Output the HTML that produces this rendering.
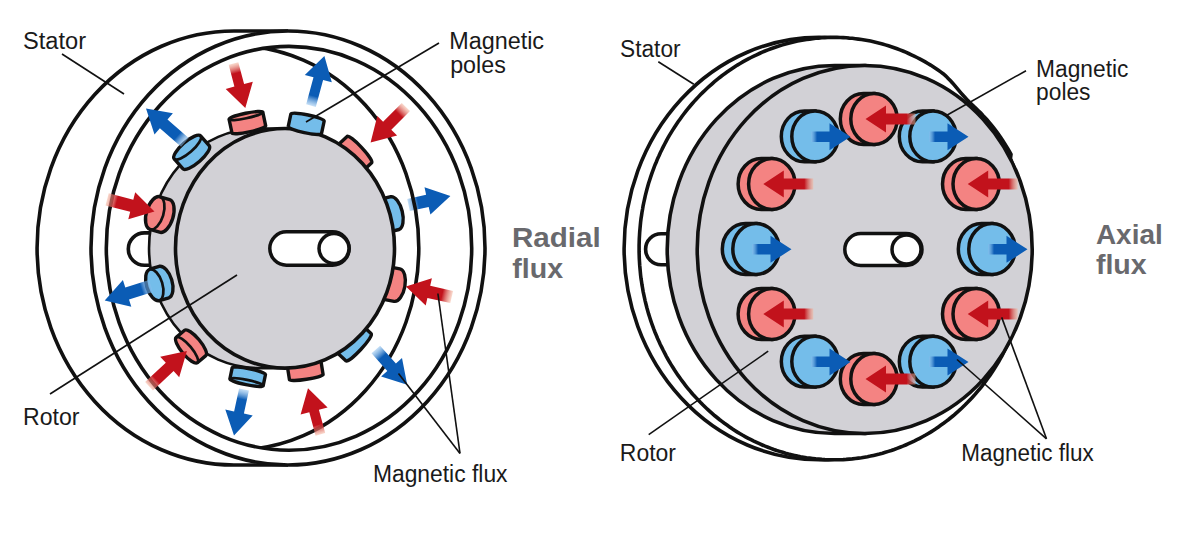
<!DOCTYPE html><html><head><meta charset="utf-8"><style>html,body{margin:0;padding:0;background:#fff}svg{display:block}text{font-family:"Liberation Sans",sans-serif}</style></head><body>
<svg width="1200" height="535" viewBox="0 0 1200 535">
<defs><clipPath id="cC"><ellipse cx="289" cy="248.3" rx="182.7" ry="201.9"/></clipPath></defs>
<g stroke="#111" stroke-width="3.6" fill="#fff">
<path d="M288,31 L234,31 A197,217 0 0 0 234,465 L288,465"/>
<ellipse cx="288" cy="248" rx="197" ry="217"/>
<ellipse cx="289" cy="248.3" rx="182.7" ry="201.9"/>
<rect x="128.3" y="232.9" width="45" height="32.4" rx="16.2"/>
</g>
<path d="M285,128.5 L258.5,128.5 A109.5,119.8 0 0 0 258.5,368.1 L285,368.1 Z" fill="#d2d1d6" stroke="#111" stroke-width="2.6"/>
<path d="M336.9,145.9 A18,3 47 0 0 361.5,172.2 L371.7,162.7 A18,3 47 0 0 347.1,136.4 Z" fill="#f48382" stroke="#111" stroke-width="3.4" stroke-linejoin="round"/>
<path d="M379.3,199.5 A17,8 76 0 0 387.5,232.4 L399.1,229.5 A17,8 76 0 0 390.9,196.6 Z" fill="#74bdea" stroke="#111" stroke-width="3.4" stroke-linejoin="round"/>
<path d="M388.1,266.7 A16.5,8 100 0 0 382.3,299.2 L394.1,301.3 A16.5,8 100 0 0 399.9,268.8 Z" fill="#f48382" stroke="#111" stroke-width="3.4" stroke-linejoin="round"/>
<path d="M361.1,324.3 A18.5,3 133 0 0 335.9,351.4 L346.1,360.9 A18.5,3 133 0 0 371.3,333.8 Z" fill="#74bdea" stroke="#111" stroke-width="3.4" stroke-linejoin="round"/>
<path d="M320.9,360.7 A17,2 171 0 0 287.3,366 L289.5,379.9 A17,2 171 0 0 323.1,374.6 Z" fill="#f48382" stroke="#111" stroke-width="3.4" stroke-linejoin="round"/>
<ellipse cx="285" cy="248.3" rx="109.5" ry="119.8" fill="#d2d1d6" stroke="#111" stroke-width="3.6"/>
<path d="M232,133 A17.2,2.5 -12 0 0 265.7,125.9 L262.8,112.2 A17.2,2.5 -12 0 0 229.1,119.3 Z" fill="#f48382" stroke="#111" stroke-width="3.4" stroke-linejoin="round"/>
<path d="M262.8,112.2 A17.2,2.5 -12 0 1 229.1,119.3" fill="none" stroke="#111" stroke-width="2.72"/>
<path d="M288.2,126.6 A17,2.5 12 0 0 321.5,133.7 L324.2,121 A17,2.5 12 0 0 290.9,113.9 Z" fill="#74bdea" stroke="#111" stroke-width="3.4" stroke-linejoin="round"/>
<path d="M182.8,168.7 A17.5,5.5 -41 0 0 209.2,145.7 L200.6,135.9 A17.5,5.5 -41 0 0 174.2,158.9 Z" fill="#74bdea" stroke="#111" stroke-width="3.4" stroke-linejoin="round"/>
<path d="M200.6,135.9 A17.5,5.5 -41 0 1 174.2,158.9" fill="none" stroke="#111" stroke-width="2.72"/>
<path d="M159.6,232.2 A17,8.5 -73 0 0 169.6,199.7 L160,196.8 A17,8.5 -73 0 0 150,229.3 Z" fill="#f48382" stroke="#111" stroke-width="3.4" stroke-linejoin="round"/>
<path d="M160,196.8 A17,8.5 -73 0 1 150,229.3" fill="none" stroke="#111" stroke-width="2.72"/>
<path d="M168.9,297.8 A16.5,8.5 -107 0 0 159.3,266.3 L149.7,269.2 A16.5,8.5 -107 0 0 159.3,300.7 Z" fill="#74bdea" stroke="#111" stroke-width="3.4" stroke-linejoin="round"/>
<path d="M149.7,269.2 A16.5,8.5 -107 0 1 159.3,300.7" fill="none" stroke="#111" stroke-width="2.72"/>
<path d="M205.8,355.6 A16.5,5 -130 0 0 184.6,330.3 L176.2,337.4 A16.5,5 -130 0 0 197.4,362.7 Z" fill="#f48382" stroke="#111" stroke-width="3.4" stroke-linejoin="round"/>
<path d="M176.2,337.4 A16.5,5 -130 0 1 197.4,362.7" fill="none" stroke="#111" stroke-width="2.72"/>
<path d="M265.5,374.5 A17,2.5 -168.5 0 0 232.2,367.7 L229.9,378.9 A17,2.5 -168.5 0 0 263.2,385.7 Z" fill="#74bdea" stroke="#111" stroke-width="3.4" stroke-linejoin="round"/>
<path d="M229.9,378.9 A17,2.5 -168.5 0 1 263.2,385.7" fill="none" stroke="#111" stroke-width="2.72"/>
<g stroke="#111" stroke-width="3.5" fill="#fff"><rect x="269.8" y="231.8" width="79.4" height="33.4" rx="16.7"/><circle cx="334" cy="248.5" r="15"/></g>
<linearGradient id="gl3" gradientUnits="userSpaceOnUse" x1="408.5" y1="205" x2="418.3" y2="202.9"><stop offset="0" stop-color="#8cc0ee" stop-opacity="0.5"/><stop offset="1" stop-color="#0b5cb5"/></linearGradient>
<polygon fill="url(#gl3)" points="409.8,211.1 428.7,207 430.4,214.6 450.4,196 424.5,187.2 426.1,194.8 407.2,198.9"/>
<ellipse cx="236.1" cy="247.9" rx="182.7" ry="202" fill="none" stroke="#111" stroke-width="3.6" clip-path="url(#cC)"/>
<linearGradient id="gl0" gradientUnits="userSpaceOnUse" x1="233.5" y1="63.5" x2="236.1" y2="73.2"><stop offset="0" stop-color="#f4b49c" stop-opacity="0.5"/><stop offset="1" stop-color="#c2121c"/></linearGradient>
<polygon fill="url(#gl0)" points="228.7,64.8 234.4,86.6 225.7,88.9 245.3,108 252.8,81.7 244.1,84 238.3,62.2"/>
<linearGradient id="gl1" gradientUnits="userSpaceOnUse" x1="311" y1="105.6" x2="313.6" y2="95.9"><stop offset="0" stop-color="#8cc0ee" stop-opacity="0.5"/><stop offset="1" stop-color="#0b5cb5"/></linearGradient>
<polygon fill="url(#gl1)" points="315.8,106.9 323.1,79.9 331.8,82.2 324.4,55.9 304.8,74.9 313.5,77.3 306.2,104.3"/>
<linearGradient id="gl2" gradientUnits="userSpaceOnUse" x1="405.9" y1="107" x2="398.8" y2="114.1"><stop offset="0" stop-color="#f4b49c" stop-opacity="0.5"/><stop offset="1" stop-color="#c2121c"/></linearGradient>
<polygon fill="url(#gl2)" points="401.8,102.9 383.1,121.7 377.3,115.9 370.6,142.4 397.1,135.6 391.3,129.8 410,111.1"/>
<linearGradient id="gl4" gradientUnits="userSpaceOnUse" x1="451.7" y1="297" x2="441.9" y2="294.8"><stop offset="0" stop-color="#f4b49c" stop-opacity="0.5"/><stop offset="1" stop-color="#c2121c"/></linearGradient>
<polygon fill="url(#gl4)" points="453.1,290.9 430.2,285.7 431.9,278.2 405.9,286.6 425.7,305.5 427.4,297.9 450.3,303.1"/>
<linearGradient id="gl5" gradientUnits="userSpaceOnUse" x1="375.8" y1="349.5" x2="382.4" y2="357"><stop offset="0" stop-color="#8cc0ee" stop-opacity="0.5"/><stop offset="1" stop-color="#0b5cb5"/></linearGradient>
<polygon fill="url(#gl5)" points="371.5,353.3 387.3,371.1 381.1,376.5 407.2,384.8 402,357.9 395.9,363.4 380.1,345.7"/>
<linearGradient id="gl6" gradientUnits="userSpaceOnUse" x1="320.4" y1="434.4" x2="317.8" y2="424.7"><stop offset="0" stop-color="#f4b49c" stop-opacity="0.5"/><stop offset="1" stop-color="#c2121c"/></linearGradient>
<polygon fill="url(#gl6)" points="325.2,433.1 318.9,409.7 327.6,407.4 308,388.3 300.6,414.6 309.3,412.3 315.6,435.7"/>
<linearGradient id="gl7" gradientUnits="userSpaceOnUse" x1="244" y1="389.5" x2="241.9" y2="399.3"><stop offset="0" stop-color="#8cc0ee" stop-opacity="0.5"/><stop offset="1" stop-color="#0b5cb5"/></linearGradient>
<polygon fill="url(#gl7)" points="239.1,388.4 234.1,411.5 225.3,409.6 234,435.5 252.7,415.5 243.9,413.6 248.9,390.6"/>
<linearGradient id="gl8" gradientUnits="userSpaceOnUse" x1="149" y1="386.2" x2="156.3" y2="379.4"><stop offset="0" stop-color="#f4b49c" stop-opacity="0.5"/><stop offset="1" stop-color="#c2121c"/></linearGradient>
<polygon fill="url(#gl8)" points="152.9,390.4 173.6,371.1 179.2,377.2 186.9,350.9 160.2,356.7 165.8,362.7 145.1,382"/>
<linearGradient id="gl9" gradientUnits="userSpaceOnUse" x1="150.9" y1="286" x2="141.4" y2="289"><stop offset="0" stop-color="#8cc0ee" stop-opacity="0.5"/><stop offset="1" stop-color="#0b5cb5"/></linearGradient>
<polygon fill="url(#gl9)" points="149,280 125.3,287.5 122.9,280.1 104.7,300.5 131.3,306.8 129,299.4 152.8,292"/>
<linearGradient id="gl10" gradientUnits="userSpaceOnUse" x1="107.1" y1="199.4" x2="116.8" y2="201.9"><stop offset="0" stop-color="#f4b49c" stop-opacity="0.5"/><stop offset="1" stop-color="#c2121c"/></linearGradient>
<polygon fill="url(#gl10)" points="105.5,205.5 130.2,211.8 128.3,219.3 154.5,211.6 135.2,192.2 133.3,199.7 108.7,193.3"/>
<linearGradient id="gl11" gradientUnits="userSpaceOnUse" x1="184.9" y1="142.4" x2="177.4" y2="135.8"><stop offset="0" stop-color="#8cc0ee" stop-opacity="0.5"/><stop offset="1" stop-color="#0b5cb5"/></linearGradient>
<polygon fill="url(#gl11)" points="188.7,138.1 167.5,119.5 172.9,113.3 146,108.4 154.5,134.4 159.9,128.2 181.1,146.7"/>
<g stroke="#111" stroke-width="3.6" fill="#fff">
<ellipse cx="819" cy="248.6" rx="194.9" ry="211.2"/>
<path d="M1028.9,248.6 L1028.9,251.9 L1028.8,255.2 L1028.7,258.5 L1028.5,261.9 L1028.3,265.2 L1028.0,268.5 L1027.7,271.8 L1027.4,275.1 L1027.0,278.4 L1026.5,281.6 L1026.0,284.9 L1025.4,288.2 L1024.9,291.4 L1024.2,294.7 L1023.5,297.9 L1022.8,301.1 L1022.0,304.3 L1021.2,307.5 L1020.3,310.7 L1019.4,313.9 L1018.4,317.0 L1017.4,320.1 L1016.3,323.3 L1015.2,326.3 L1014.1,329.4 L1012.9,332.5 L1011.6,335.5 L1010.4,338.5 L1009.0,341.5 L1007.7,344.5 L1006.2,347.4 L1004.8,350.3 L1003.3,353.2 L1001.8,356.1 L1000.2,359.0 L998.6,361.8 L996.9,364.6 L995.2,367.3 L993.5,370.0 L991.7,372.7 L989.9,375.4 L988.0,378.0 L986.1,380.7 L984.2,383.2 L982.2,385.8 L980.2,388.3 L978.2,390.7 L976.1,393.2 L974.0,395.6 L971.8,397.9 L969.6,400.3 L967.4,402.6 L965.2,404.8 L962.9,407.0 L960.6,409.2 L958.2,411.3 L955.9,413.4 L953.5,415.5 L951.0,417.5 L948.6,419.5 L946.1,421.4 L943.6,423.3 L941.0,425.1 L938.4,426.9 L935.8,428.7 L933.2,430.4 L930.6,432.1 L927.9,433.7 L925.2,435.3 L922.5,436.8 L919.7,438.3 L917.0,439.7 L914.2,441.1 L911.4,442.4 L908.6,443.7 L905.7,445.0 L902.9,446.2 L900.0,447.3 L897.1,448.4 L894.2,449.5 L891.3,450.5 L888.4,451.4 L885.4,452.3 L882.5,453.2 L879.5,454.0 L876.5,454.7 L873.5,455.4 L870.5,456.1 L867.5,456.7 L864.5,457.2 L861.5,457.7 L858.4,458.1 L855.4,458.5 L852.3,458.9 L849.3,459.1 L846.2,459.4 L843.2,459.6 L840.1,459.7 L837.1,459.8 L834.0,459.8 L830.9,459.8 L827.9,459.7 L824.8,459.6 L821.8,459.4 L818.7,459.1 L815.7,458.9 L812.6,458.5 L809.6,458.1 L806.5,457.7 L803.5,457.2 L800.5,456.7 L797.5,456.1 L794.5,455.4 L791.5,454.7 L788.5,454.0 L785.5,453.2 L782.6,452.3 L779.6,451.4 L776.7,450.5 L773.8,449.5 L770.9,448.4 L768.0,447.3 L765.1,446.2 L762.3,445.0 L759.4,443.7 L756.6,442.4 L753.8,441.1 L751.0,439.7 L748.3,438.3 L745.5,436.8 L742.8,435.3 L740.1,433.7 L737.4,432.1 L734.8,430.4 L732.2,428.7 L729.6,426.9 L727.0,425.1 L724.4,423.3 L721.9,421.4 L719.4,419.5 L717.0,417.5 L714.5,415.5 L712.1,413.4 L709.8,411.3 L707.4,409.2 L705.1,407.0 L702.8,404.8 L700.6,402.6 L698.4,400.3 L696.2,397.9 L694.0,395.6 L691.9,393.2 L689.8,390.7 L687.8,388.3 L685.8,385.8 L683.8,383.2 L681.9,380.7 L680.0,378.0 L678.1,375.4 L676.3,372.7 L674.5,370.0 L672.8,367.3 L671.1,364.6 L669.4,361.8 L667.8,359.0 L666.2,356.1 L664.7,353.2 L663.2,350.3 L661.8,347.4 L660.3,344.5 L659.0,341.5 L657.6,338.5 L656.4,335.5 L655.1,332.5 L653.9,329.4 L652.8,326.3 L651.7,323.3 L650.6,320.1 L649.6,317.0 L648.6,313.9 L647.7,310.7 L646.8,307.5 L646.0,304.3 L645.2,301.1 L644.5,297.9 L643.8,294.7 L643.1,291.4 L642.6,288.2 L642.0,284.9 L641.5,281.6 L641.0,278.4 L640.6,275.1 L640.3,271.8 L640.0,268.5 L639.7,265.2 L639.5,261.9 L639.3,258.5 L639.2,255.2 L639.1,251.9 L639.1,248.6 L639.1,245.3 L639.2,242.0 L639.3,238.7 L639.5,235.3 L639.7,232.0 L640.0,228.7 L640.3,225.4 L640.6,222.1 L641.0,218.8 L641.5,215.6 L642.0,212.3 L642.6,209.0 L643.1,205.8 L643.8,202.5 L644.5,199.3 L645.2,196.1 L646.0,192.9 L646.8,189.7 L647.7,186.5 L648.6,183.3 L649.6,180.2 L650.6,177.1 L651.7,173.9 L652.8,170.9 L653.9,167.8 L655.1,164.7 L656.4,161.7 L657.6,158.7 L659.0,155.7 L660.3,152.7 L661.8,149.8 L663.2,146.9 L664.7,144.0 L666.2,141.1 L667.8,138.2 L669.4,135.4 L671.1,132.6 L672.8,129.9 L674.5,127.2 L676.3,124.5 L678.1,121.8 L680.0,119.2 L681.9,116.5 L683.8,114.0 L685.8,111.4 L687.8,108.9 L689.8,106.5 L691.9,104.0 L694.0,101.6 L696.2,99.3 L698.4,96.9 L700.6,94.6 L702.8,92.4 L705.1,90.2 L707.4,88.0 L709.8,85.9 L712.1,83.8 L714.5,81.7 L717.0,79.7 L719.4,77.7 L721.9,75.8 L724.4,73.9 L727.0,72.1 L729.6,70.3 L732.2,68.5 L734.8,66.8 L737.4,65.1 L740.1,63.5 L742.8,61.9 L745.5,60.4 L748.3,58.9 L751.0,57.5 L753.8,56.1 L756.6,54.8 L759.4,53.5 L762.3,52.2 L765.1,51.0 L768.0,49.9 L770.9,48.8 L773.8,47.7 L776.7,46.7 L779.6,45.8 L782.6,44.9 L785.5,44.0 L788.5,43.2 L791.5,42.5 L794.5,41.8 L797.5,41.1 L800.5,40.5 L803.5,40.0 L806.5,39.5 L809.6,39.1 L812.6,38.7 L815.7,38.3 L818.7,38.1 L821.8,37.8 L824.8,37.6 L827.9,37.5 L830.9,37.4 L834.0,37.4 L837.1,37.4 L840.1,37.5 L843.2,37.6 L846.2,37.8 L849.3,38.1 L852.3,38.3 L855.4,38.7 L858.4,39.1 L861.5,39.5 L864.5,40.0 L867.5,40.5 L870.5,41.1 L873.5,41.8 L876.5,42.5 L879.5,43.2 L882.5,44.0 L885.4,44.9 L888.4,45.8 L891.3,46.7 L894.2,47.7 L897.1,48.8 L900.0,49.9 L902.9,51.0 L905.7,52.2 L908.6,53.5 L911.4,54.8 L914.2,56.1 L917.0,57.5 L919.7,58.9 L922.5,60.4 L925.2,61.9 L927.9,63.5 L930.6,65.1 L933.2,66.8 L935.8,68.5 L938.4,70.3 L941.0,72.1 L943.5,74.0 L945.9,76.1 L948.2,78.4 L950.5,80.8 L952.7,83.2 L954.8,85.7 L956.9,88.2 L959.0,90.7 L961.1,93.1 L963.2,95.5 L965.3,97.8 L967.4,100.1 L969.6,102.3 L971.9,104.5 L974.1,106.6 L976.4,108.7 L978.6,110.9 L980.8,113.1 L982.9,115.4 L985.1,117.7 L987.2,120.0 L989.2,122.4 L991.3,124.9 L993.3,127.3 L995.2,129.9 L997.1,132.4 L999.0,135.0 L1000.9,137.7 L1002.7,140.4 L1004.4,143.1 L1006.1,145.9 L1007.8,148.7 L1009.4,151.5 L1011.0,154.4 L1010.4,158.7 L1011.6,161.7 L1012.9,164.7 L1014.1,167.8 L1015.2,170.9 L1016.3,173.9 L1017.4,177.1 L1018.4,180.2 L1019.4,183.3 L1020.3,186.5 L1021.2,189.7 L1022.0,192.9 L1022.8,196.1 L1023.5,199.3 L1024.2,202.5 L1024.9,205.8 L1025.4,209.0 L1026.0,212.3 L1026.5,215.6 L1027.0,218.8 L1027.4,222.1 L1027.7,225.4 L1028.0,228.7 L1028.3,232.0 L1028.5,235.3 L1028.7,238.7 L1028.8,242.0 L1028.9,245.3 Z"/>
<rect x="645.6" y="233.8" width="45" height="31" rx="15.5"/>
</g>
<path d="M864.7,65.5 L834.7,65.5 A167.5,184 0 0 0 834.7,433.5 L864.7,433.5 Z" fill="#d2d1d6" stroke="#111" stroke-width="3.6"/>
<ellipse cx="864.7" cy="249.5" rx="167.5" ry="184" fill="#d2d1d6" stroke="#111" stroke-width="3.6"/>
<g stroke="#111" stroke-width="3.5" fill="#fff"><rect x="844.8" y="233.5" width="77.2" height="32" rx="16"/><circle cx="906.5" cy="249.5" r="14.5"/></g>
<path d="M756,223.6 L745.5,223.6 A23.2,25.4 0 0 0 745.5,274.4 L756,274.4 Z" fill="#74bdea" stroke="#111" stroke-width="3.5"/>
<ellipse cx="756" cy="249" rx="23.2" ry="25.4" fill="#74bdea" stroke="#111" stroke-width="3.5"/>
<path d="M771.8,288.6 L761.3,288.6 A23.2,25.4 0 0 0 761.3,339.4 L771.8,339.4 Z" fill="#f48382" stroke="#111" stroke-width="3.5"/>
<ellipse cx="771.8" cy="314" rx="23.2" ry="25.4" fill="#f48382" stroke="#111" stroke-width="3.5"/>
<path d="M771.8,158.6 L761.3,158.6 A23.2,25.4 0 0 0 761.3,209.4 L771.8,209.4 Z" fill="#f48382" stroke="#111" stroke-width="3.5"/>
<ellipse cx="771.8" cy="184" rx="23.2" ry="25.4" fill="#f48382" stroke="#111" stroke-width="3.5"/>
<path d="M815,336.2 L804.5,336.2 A23.2,25.4 0 0 0 804.5,387 L815,387 Z" fill="#74bdea" stroke="#111" stroke-width="3.5"/>
<ellipse cx="815" cy="361.6" rx="23.2" ry="25.4" fill="#74bdea" stroke="#111" stroke-width="3.5"/>
<path d="M815,111 L804.5,111 A23.2,25.4 0 0 0 804.5,161.8 L815,161.8 Z" fill="#74bdea" stroke="#111" stroke-width="3.5"/>
<ellipse cx="815" cy="136.4" rx="23.2" ry="25.4" fill="#74bdea" stroke="#111" stroke-width="3.5"/>
<path d="M874,93.6 L863.5,93.6 A23.2,25.4 0 0 0 863.5,144.4 L874,144.4 Z" fill="#f48382" stroke="#111" stroke-width="3.5"/>
<ellipse cx="874" cy="119" rx="23.2" ry="25.4" fill="#f48382" stroke="#111" stroke-width="3.5"/>
<path d="M874,353.6 L863.5,353.6 A23.2,25.4 0 0 0 863.5,404.4 L874,404.4 Z" fill="#f48382" stroke="#111" stroke-width="3.5"/>
<ellipse cx="874" cy="379" rx="23.2" ry="25.4" fill="#f48382" stroke="#111" stroke-width="3.5"/>
<path d="M933,111 L922.5,111 A23.2,25.4 0 0 0 922.5,161.8 L933,161.8 Z" fill="#74bdea" stroke="#111" stroke-width="3.5"/>
<ellipse cx="933" cy="136.4" rx="23.2" ry="25.4" fill="#74bdea" stroke="#111" stroke-width="3.5"/>
<path d="M933,336.2 L922.5,336.2 A23.2,25.4 0 0 0 922.5,387 L933,387 Z" fill="#74bdea" stroke="#111" stroke-width="3.5"/>
<ellipse cx="933" cy="361.6" rx="23.2" ry="25.4" fill="#74bdea" stroke="#111" stroke-width="3.5"/>
<path d="M976.2,158.6 L965.7,158.6 A23.2,25.4 0 0 0 965.7,209.4 L976.2,209.4 Z" fill="#f48382" stroke="#111" stroke-width="3.5"/>
<ellipse cx="976.2" cy="184" rx="23.2" ry="25.4" fill="#f48382" stroke="#111" stroke-width="3.5"/>
<path d="M976.2,288.6 L965.7,288.6 A23.2,25.4 0 0 0 965.7,339.4 L976.2,339.4 Z" fill="#f48382" stroke="#111" stroke-width="3.5"/>
<ellipse cx="976.2" cy="314" rx="23.2" ry="25.4" fill="#f48382" stroke="#111" stroke-width="3.5"/>
<path d="M992,223.6 L981.5,223.6 A23.2,25.4 0 0 0 981.5,274.4 L992,274.4 Z" fill="#74bdea" stroke="#111" stroke-width="3.5"/>
<ellipse cx="992" cy="249" rx="23.2" ry="25.4" fill="#74bdea" stroke="#111" stroke-width="3.5"/>
<linearGradient id="gr0" gradientUnits="userSpaceOnUse" x1="915.5" y1="119" x2="906.5" y2="119"><stop offset="0" stop-color="#f4b49c" stop-opacity="0.5"/><stop offset="1" stop-color="#c2121c"/></linearGradient>
<polygon fill="url(#gr0)" points="915.5,113.5 886,113.5 886,105.5 865.5,119 886,132.5 886,124.5 915.5,124.5"/>
<linearGradient id="gr1" gradientUnits="userSpaceOnUse" x1="929" y1="136.7" x2="935" y2="136.7"><stop offset="0" stop-color="#8cc0ee" stop-opacity="0.5"/><stop offset="1" stop-color="#0b5cb5"/></linearGradient>
<polygon fill="url(#gr1)" points="929,142 947.5,142 947.5,150.2 968.5,136.7 947.5,123.2 947.5,131.5 929,131.5"/>
<linearGradient id="gr2" gradientUnits="userSpaceOnUse" x1="1017.7" y1="184" x2="1008.7" y2="184"><stop offset="0" stop-color="#f4b49c" stop-opacity="0.5"/><stop offset="1" stop-color="#c2121c"/></linearGradient>
<polygon fill="url(#gr2)" points="1017.7,178.5 988.2,178.5 988.2,170.5 967.7,184 988.2,197.5 988.2,189.5 1017.7,189.5"/>
<linearGradient id="gr3" gradientUnits="userSpaceOnUse" x1="988" y1="249.3" x2="994" y2="249.3"><stop offset="0" stop-color="#8cc0ee" stop-opacity="0.5"/><stop offset="1" stop-color="#0b5cb5"/></linearGradient>
<polygon fill="url(#gr3)" points="988,254.6 1006.5,254.6 1006.5,262.8 1027.5,249.3 1006.5,235.8 1006.5,244.1 988,244.1"/>
<linearGradient id="gr4" gradientUnits="userSpaceOnUse" x1="1017.7" y1="314" x2="1008.7" y2="314"><stop offset="0" stop-color="#f4b49c" stop-opacity="0.5"/><stop offset="1" stop-color="#c2121c"/></linearGradient>
<polygon fill="url(#gr4)" points="1017.7,308.5 988.2,308.5 988.2,300.5 967.7,314 988.2,327.5 988.2,319.5 1017.7,319.5"/>
<linearGradient id="gr5" gradientUnits="userSpaceOnUse" x1="929" y1="361.9" x2="935" y2="361.9"><stop offset="0" stop-color="#8cc0ee" stop-opacity="0.5"/><stop offset="1" stop-color="#0b5cb5"/></linearGradient>
<polygon fill="url(#gr5)" points="929,367.1 947.5,367.1 947.5,375.4 968.5,361.9 947.5,348.4 947.5,356.6 929,356.6"/>
<linearGradient id="gr6" gradientUnits="userSpaceOnUse" x1="915.5" y1="379" x2="906.5" y2="379"><stop offset="0" stop-color="#f4b49c" stop-opacity="0.5"/><stop offset="1" stop-color="#c2121c"/></linearGradient>
<polygon fill="url(#gr6)" points="915.5,373.5 886,373.5 886,365.5 865.5,379 886,392.5 886,384.5 915.5,384.5"/>
<linearGradient id="gr7" gradientUnits="userSpaceOnUse" x1="811" y1="361.9" x2="817" y2="361.9"><stop offset="0" stop-color="#8cc0ee" stop-opacity="0.5"/><stop offset="1" stop-color="#0b5cb5"/></linearGradient>
<polygon fill="url(#gr7)" points="811,367.1 829.5,367.1 829.5,375.4 850.5,361.9 829.5,348.4 829.5,356.6 811,356.6"/>
<linearGradient id="gr8" gradientUnits="userSpaceOnUse" x1="813.3" y1="314" x2="804.3" y2="314"><stop offset="0" stop-color="#f4b49c" stop-opacity="0.5"/><stop offset="1" stop-color="#c2121c"/></linearGradient>
<polygon fill="url(#gr8)" points="813.3,308.5 783.8,308.5 783.8,300.5 763.3,314 783.8,327.5 783.8,319.5 813.3,319.5"/>
<linearGradient id="gr9" gradientUnits="userSpaceOnUse" x1="752" y1="249.3" x2="758" y2="249.3"><stop offset="0" stop-color="#8cc0ee" stop-opacity="0.5"/><stop offset="1" stop-color="#0b5cb5"/></linearGradient>
<polygon fill="url(#gr9)" points="752,254.6 770.5,254.6 770.5,262.8 791.5,249.3 770.5,235.8 770.5,244.1 752,244.1"/>
<linearGradient id="gr10" gradientUnits="userSpaceOnUse" x1="813.3" y1="184" x2="804.3" y2="184"><stop offset="0" stop-color="#f4b49c" stop-opacity="0.5"/><stop offset="1" stop-color="#c2121c"/></linearGradient>
<polygon fill="url(#gr10)" points="813.3,178.5 783.8,178.5 783.8,170.5 763.3,184 783.8,197.5 783.8,189.5 813.3,189.5"/>
<linearGradient id="gr11" gradientUnits="userSpaceOnUse" x1="811" y1="136.7" x2="817" y2="136.7"><stop offset="0" stop-color="#8cc0ee" stop-opacity="0.5"/><stop offset="1" stop-color="#0b5cb5"/></linearGradient>
<polygon fill="url(#gr11)" points="811,142 829.5,142 829.5,150.2 850.5,136.7 829.5,123.2 829.5,131.5 811,131.5"/>
<g stroke="#111" stroke-width="1.6" fill="none">
<line x1="62" y1="54" x2="124" y2="94"/>
<line x1="439" y1="43" x2="306" y2="122"/>
<line x1="50" y1="394" x2="237" y2="275"/>
<line x1="460" y1="453.4" x2="437.9" y2="293.5"/>
<line x1="460" y1="453.4" x2="398.5" y2="373.5"/>
<line x1="658.3" y1="61.8" x2="693.8" y2="84.2"/>
<line x1="1026" y1="70.7" x2="945.5" y2="116"/>
<line x1="648.7" y1="434.7" x2="768.2" y2="351.2"/>
<line x1="1046.5" y1="438.8" x2="1001.7" y2="317.4"/>
<line x1="1046.5" y1="438.8" x2="957" y2="359.5"/>
</g>
<text id="StatorL" x="22.97" y="49" font-size="23" fill="#1a1a1a" textLength="63.11" lengthAdjust="spacingAndGlyphs">Stator</text>
<text id="MagL" x="449.17" y="48.5" font-size="23" fill="#1a1a1a" textLength="94.87" lengthAdjust="spacingAndGlyphs">Magnetic</text>
<text id="polesL" x="450.19" y="73.2" font-size="23" fill="#1a1a1a" textLength="55.61" lengthAdjust="spacingAndGlyphs">poles</text>
<text id="RotorL" x="23.09" y="425.3" font-size="23" fill="#1a1a1a" textLength="56.46" lengthAdjust="spacingAndGlyphs">Rotor</text>
<text id="MagFluxL" x="372.91" y="481.9" font-size="23" fill="#1a1a1a" textLength="134.61" lengthAdjust="spacingAndGlyphs">Magnetic flux</text>
<text id="Radial" x="511.92" y="247" font-size="28.5" fill="#69696d" font-weight="bold" textLength="88.80" lengthAdjust="spacingAndGlyphs">Radial</text>
<text id="fluxL" x="512.30" y="278" font-size="28.5" fill="#69696d" font-weight="bold" textLength="50.78" lengthAdjust="spacingAndGlyphs">flux</text>
<text id="StatorR" x="620.02" y="56.7" font-size="23" fill="#1a1a1a" textLength="60.56" lengthAdjust="spacingAndGlyphs">Stator</text>
<text id="MagR" x="1036.12" y="76.6" font-size="23" fill="#1a1a1a" textLength="92.30" lengthAdjust="spacingAndGlyphs">Magnetic</text>
<text id="polesR" x="1036.12" y="99.9" font-size="23" fill="#1a1a1a" textLength="54.38" lengthAdjust="spacingAndGlyphs">poles</text>
<text id="RotorR" x="619.80" y="461.4" font-size="23" fill="#1a1a1a" textLength="56.15" lengthAdjust="spacingAndGlyphs">Rotor</text>
<text id="MagFluxR" x="961.25" y="461.2" font-size="23" fill="#1a1a1a" textLength="132.46" lengthAdjust="spacingAndGlyphs">Magnetic flux</text>
<text id="Axial" x="1095.92" y="244.3" font-size="28.5" fill="#69696d" font-weight="bold" textLength="66.87" lengthAdjust="spacingAndGlyphs">Axial</text>
<text id="fluxR" x="1095.90" y="273.8" font-size="28.5" fill="#69696d" font-weight="bold" textLength="50.78" lengthAdjust="spacingAndGlyphs">flux</text>
</svg></body></html>
